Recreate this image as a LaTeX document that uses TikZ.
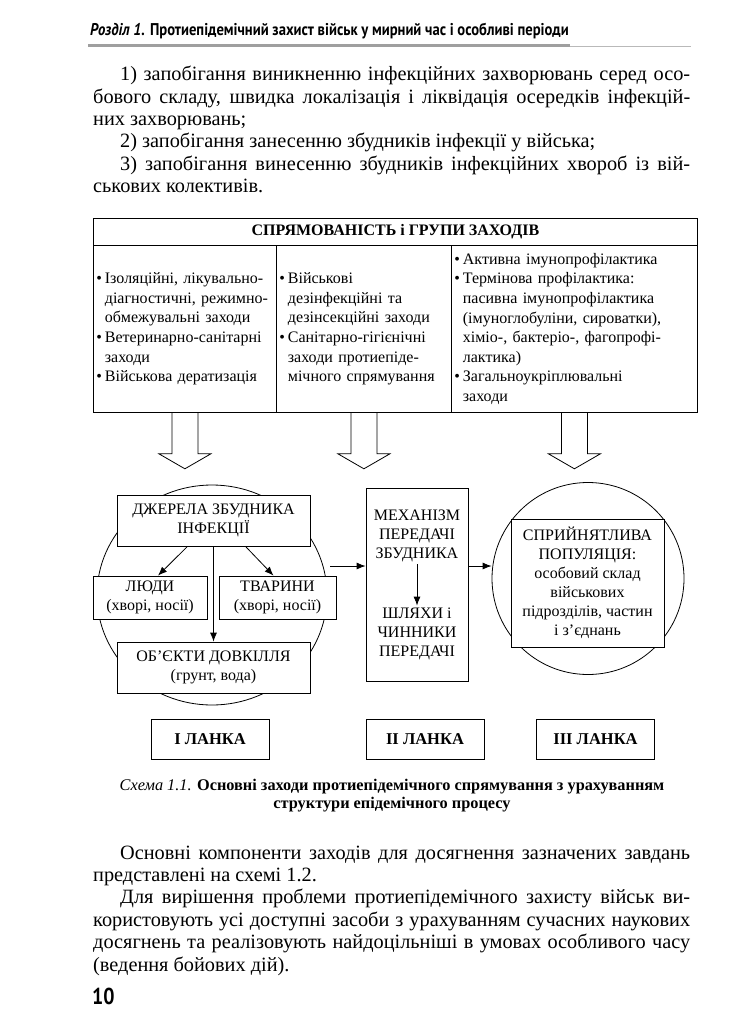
\documentclass[tikz,border=0pt]{standalone}
\usepackage{fontspec}
\setmainfont{Liberation Serif}
\newfontfamily\hdrfont[FakeStretch=0.86]{PT Sans}
\usetikzlibrary{positioning, arrows.meta, calc, shapes.geometric}

\newcommand\bl{\makebox[8.5pt][l]{•}}
\newcommand\hi{\hspace*{8.5pt}}

\begin{document}
\begin{tikzpicture}[
    x=1pt, y=-1pt,
    body/.style={anchor=base west, inner sep=0pt, font=\fontsize{20.3}{22}\selectfont},
    box/.style={draw, fill=white, line width=0.8pt, align=center, inner sep=2pt, font=\fontsize{16}{19}\selectfont},
    col/.style={draw, line width=0.8pt, align=left, anchor=north west, inner xsep=3pt, inner ysep=0pt,
        minimum height=167pt, font=\fontsize{16}{19.6}\selectfont},
    lnk/.style={draw, line width=0.8pt, minimum width=118pt, minimum height=40pt, font=\bfseries\fontsize{16.5}{18}\selectfont},
    arr/.style={-{Latex[length=9pt,width=7pt]}, line width=0.8pt},
    hollow/.style={draw, line width=0.8pt}
]
\useasboundingbox[fill=white] (0,0) rectangle (741,1024);

% --- page header ---
\node[anchor=base west, inner sep=0pt, font=\hdrfont\bfseries\fontsize{17}{18}\selectfont] (hdr) at (90,36)
    {\itshape Розділ 1.\upshape{} Протиепідемічний захист військ у мирний час і особливі періоди};
\draw[line width=3pt, gray!75] (88,46) -- (570,46);
\draw[line width=1.4pt, gray!55] (570,46.8) -- (691,46.8);

% --- text above the scheme ---
\foreach \nm/\xx/\yy/\tx in {
    pa1/120/81/{1) запобігання виникненню інфекційних захворювань серед осо-},
    pa2/93/103.3/{бового складу, швидка локалізація і ліквідація осередків інфекцій-},
    pa5/120/170.2/{3) запобігання винесенню збудників інфекційних хвороб із вій-},
    pb1/120/859/{Основні компоненти заходів для досягнення зазначених завдань},
    pb3/120/903.8/{Для вирішення проблеми протиепідемічного захисту військ ви-},
    pb4/93/926.2/{користовують усі доступні засоби з урахуванням сучасних наукових},
    pb5/93/948.6/{досягнень та реалізовують найдоцільніші в умовах особливого часу}%
}{
    \node[body] (\nm) at (\xx,\yy) {\makebox[\dimexpr690pt-\xx pt\relax][s]{\tx}};
}
\foreach \nm/\xx/\yy/\tx in {
    pa3/93/125.6/{них захворювань;},
    pa4/120/147.9/{2) запобігання занесенню збудників інфекції у війська;},
    pa6/93/192.5/{ськових колективів.},
    pb2/93/881.4/{представлені на схемі 1.2.},
    pb6/93/971/{(ведення бойових дій).}%
}{
    \node[body] (\nm) at (\xx,\yy) {\tx};
}

% --- 1. Table of measures ---
\node[draw, line width=0.8pt, anchor=north west, minimum width=604pt, minimum height=27pt,
    font=\bfseries\fontsize{16}{18}\selectfont] (head) at (93,218) {СПРЯМОВАНІСТЬ і ГРУПИ ЗАХОДІВ};

\node[col, text width=177pt] (col1) at (93,245)
    {\bl Ізоляційні, лікувально-\\\hi\mbox{діагностичні, режимно-}\\\hi обмежувальні заходи\\
     \bl Ветеринарно-санітарні\\\hi заходи\\\bl Військова дератизація};
\node[col, text width=169pt] (col2) at (276,245)
    {\bl Військові\\\hi дезінфекційні та\\\hi дезінсекційні заходи\\
     \bl Санітарно-гігієнічні\\\hi заходи протиепіде-\\\hi мічного спрямування};
\node[col, text width=240pt] (col3) at (451,245)
    {\bl Активна імунопрофілактика\\\bl Термінова профілактика:\\\hi пасивна імунопрофілактика\\
     \hi (імуноглобуліни, сироватки),\\\hi хіміо-, бактеріо-, фагопрофі-\\\hi лактика)\\
     \bl Загальноукріплювальні\\\hi заходи};

% --- 2. Hollow arrows ---
\foreach \c in {col1, col2, col3}{
    \draw[hollow] ($(\c.south)+(-13,0)$) -- ++(0,41) -- ++(-13,0) -- ($(\c.south)+(0,56)$)
        -- ++(26,-15) -- ++(-13,0) -- ++(0,-41);
}

% --- 3. First link: sources ---
\node[draw, ellipse, line width=0.8pt, minimum width=230pt, minimum height=220pt] (circL) at (212,595) {};

\node[box, minimum width=193pt, minimum height=51pt] (src) at (213.5,520.5) {ДЖЕРЕЛА ЗБУДНИКА\\ІНФЕКЦІЇ};
\node[box, minimum width=114pt, minimum height=43pt] (ppl) at (150,597.5) {ЛЮДИ\\(хворі, носії)};
\node[box, minimum width=117pt, minimum height=43pt] (anm) at (277.5,597.5) {ТВАРИНИ\\(хворі, носії)};
\node[box, minimum width=193pt, minimum height=51pt] (env) at (213.5,667.5) {ОБ’ЄКТИ ДОВКІЛЛЯ\\(грунт, вода)};

\draw[arr] ($(src.south)+(-26,0)$) -- ($(ppl.north)+(8,0)$);
\draw[arr] ($(src.south)+(32,0)$) -- ($(anm.north)+(-4,0)$);
\draw[arr] (src.south) -- (env.north);

% --- 4. Second link: mechanism ---
\node[box, minimum width=102pt, minimum height=193pt] (mech) at (417,584.5) {};
\node[box, draw=none, fill=none] (mtop) at (417,536) {МЕХАНІЗМ\\ПЕРЕДАЧІ\\ЗБУДНИКА};
\node[box, draw=none, fill=none] (mbot) at (417,634) {ШЛЯХИ і\\ЧИННИКИ\\ПЕРЕДАЧІ};
\draw[arr] (mtop.south) -- (mbot.north);

% --- 5. Third link: population ---
\node[draw, circle, line width=0.8pt, minimum size=192pt] (circR) at (588,578.5) {};
\node[box, minimum width=153pt, minimum height=128pt] (pop) at (587.5,583)
    {СПРИЙНЯТЛИВА\\ПОПУЛЯЦІЯ:\\особовий склад\\військових\\підрозділів, частин\\і з’єднань};

\coordinate (a1) at (330,566);
\draw[arr] (a1) -- (a1 -| mech.west);
\draw[arr] (a1 -| mech.east) -- (a1 -| circR.west);

% --- 6. Links ---
\node[lnk] (lnk1) at (210,739) {І ЛАНКА};
\node[lnk] (lnk2) at (425,739) {ІІ ЛАНКА};
\node[lnk] (lnk3) at (595.5,739) {ІІІ ЛАНКА};

% --- caption ---
\node[anchor=base, inner sep=0pt, font=\fontsize{16.3}{18}\selectfont] (cap1) at (392,790)
    {\textit{Схема 1.1.} \textbf{Основні заходи протиепідемічного спрямування з урахуванням}};
\node[anchor=base, inner sep=0pt, font=\bfseries\fontsize{16.3}{18}\selectfont] (cap2) at (392,808)
    {структури епідемічного процесу};

% --- page number ---
\node[anchor=base west, inner sep=0pt, font=\hdrfont\bfseries\fontsize{23}{25}\selectfont] (pg) at (92,1004) {10};
\end{tikzpicture}
\end{document}
